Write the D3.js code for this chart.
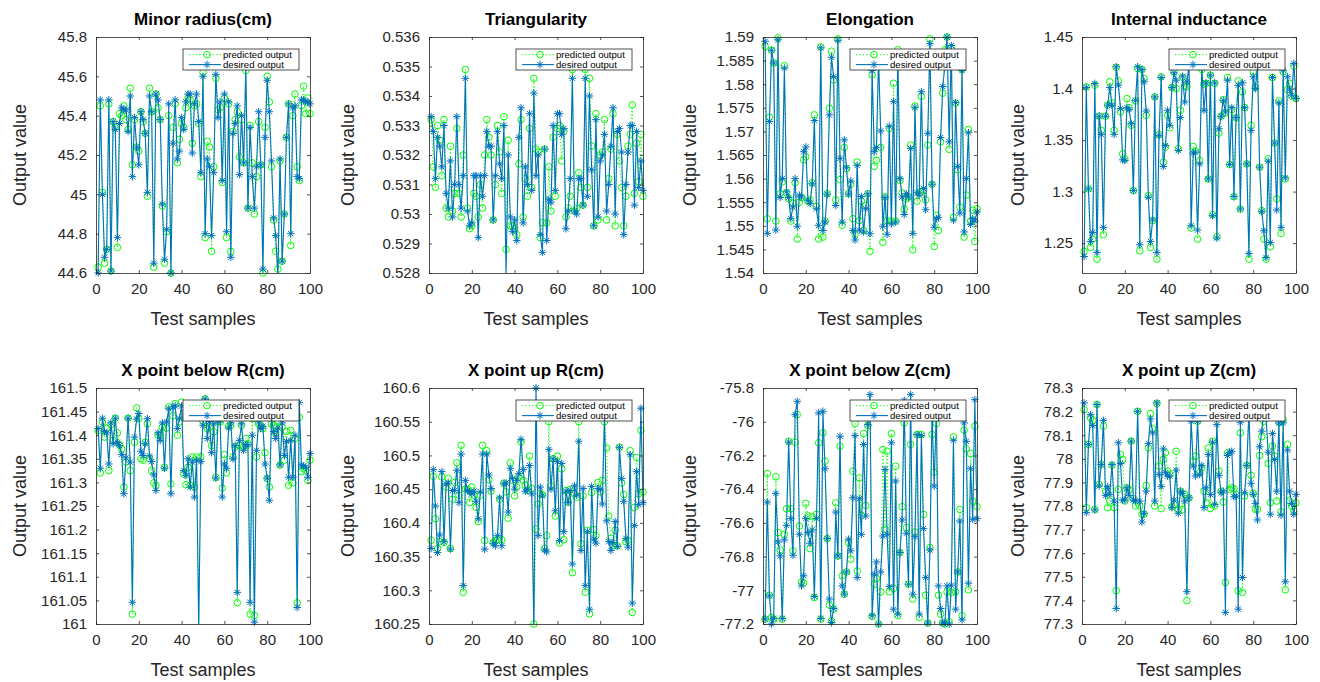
<!DOCTYPE html>
<html><head><meta charset="utf-8">
<script src="https://cdn.jsdelivr.net/npm/d3@7"></script>
<style>
body{margin:0;background:#fff}
text{font-family:"Liberation Sans",Arial,Helvetica,sans-serif}
</style>
</head><body>
<svg id="chart" width="1320" height="682"></svg>
<script>
// ---------- data ----------
const samples = d3.range(1, 101);
const xTicks = [0, 20, 40, 60, 80, 100];

const minorRadiusDesired = [
44.60,45.48,45.00,44.68,44.72,45.48,44.61,45.37,45.33,44.78,
45.36,45.44,45.43,45.43,45.32,45.50,45.09,45.39,45.24,45.15,
45.42,45.38,45.31,45.01,45.50,45.42,44.65,45.51,45.48,45.38,
44.95,44.67,44.82,45.46,44.60,45.26,45.48,45.18,45.22,45.39,
45.33,45.47,45.51,45.51,45.21,45.46,45.51,45.37,45.11,45.60,
44.80,45.18,45.14,44.79,45.11,45.61,45.39,45.47,45.07,45.51,
44.81,45.47,44.68,45.31,45.36,45.45,45.10,45.40,45.16,45.65,
44.93,45.34,45.09,44.93,45.14,45.42,45.15,44.62,45.29,45.58,
45.42,45.17,44.88,44.79,44.58,45.18,44.66,44.90,45.29,45.46,
44.80,45.44,45.45,45.09,45.08,45.48,45.48,45.47,45.47,45.46];
const minorRadiusPredicted = [
44.63,45.45,45.01,44.65,44.72,45.46,44.61,45.37,45.34,44.73,
45.41,45.40,45.45,45.38,45.33,45.54,45.15,45.38,45.24,45.22,
45.42,45.37,45.31,44.99,45.54,45.42,44.63,45.51,45.44,45.38,
44.94,44.65,44.81,45.40,44.60,45.34,45.46,45.16,45.28,45.36,
45.34,45.44,45.49,45.48,45.26,45.45,45.46,45.36,45.09,45.62,
44.78,45.27,45.24,44.71,45.14,45.59,45.43,45.44,45.06,45.49,
44.78,45.46,44.71,45.32,45.38,45.42,45.19,45.38,45.16,45.63,
44.93,45.35,45.16,44.90,45.09,45.37,45.15,44.60,45.34,45.60,
45.47,45.14,44.87,44.71,44.62,45.17,44.66,44.90,45.29,45.46,
44.74,45.40,45.51,45.14,45.07,45.45,45.55,45.41,45.49,45.41];

const triangularityDesired = [
0.5333,0.5328,0.5312,0.5326,0.5323,0.5316,0.5330,0.5307,0.5302,0.5318,
0.5299,0.5310,0.5333,0.5310,0.5302,0.5313,0.5346,0.5301,0.5296,0.5297,
0.5313,0.5313,0.5292,0.5313,0.5306,0.5313,0.5328,0.5323,0.5323,0.5298,
0.5313,0.5328,0.5317,0.5312,0.5330,0.5279,0.5320,0.5299,0.5294,0.5298,
0.5291,0.5326,0.5336,0.5297,0.5316,0.5310,0.5334,0.5308,0.5341,0.5313,
0.5320,0.5293,0.5287,0.5322,0.5291,0.5305,0.5304,0.5330,0.5308,0.5334,
0.5334,0.5327,0.5329,0.5295,0.5301,0.5312,0.5346,0.5301,0.5300,0.5312,
0.5312,0.5303,0.5346,0.5306,0.5340,0.5315,0.5296,0.5332,0.5299,0.5318,
0.5320,0.5327,0.5301,0.5310,0.5323,0.5336,0.5300,0.5328,0.5329,0.5321,
0.5293,0.5310,0.5321,0.5330,0.5330,0.5303,0.5328,0.5309,0.5318,0.5308];
const triangularityPredicted = [
0.5332,0.5316,0.5309,0.5330,0.5325,0.5313,0.5332,0.5302,0.5299,0.5323,
0.5301,0.5307,0.5329,0.5307,0.5299,0.5320,0.5349,0.5302,0.5295,0.5296,
0.5307,0.5306,0.5299,0.5310,0.5302,0.5320,0.5332,0.5326,0.5320,0.5298,
0.5310,0.5330,0.5321,0.5307,0.5333,0.5288,0.5325,0.5296,0.5296,0.5295,
0.5293,0.5317,0.5332,0.5299,0.5312,0.5306,0.5329,0.5309,0.5346,0.5322,
0.5321,0.5292,0.5297,0.5322,0.5297,0.5316,0.5301,0.5326,0.5306,0.5329,
0.5330,0.5318,0.5328,0.5299,0.5302,0.5306,0.5349,0.5301,0.5302,0.5314,
0.5309,0.5303,0.5349,0.5309,0.5346,0.5323,0.5296,0.5334,0.5298,0.5320,
0.5321,0.5332,0.5298,0.5312,0.5322,0.5334,0.5296,0.5327,0.5318,0.5309,
0.5296,0.5306,0.5323,0.5327,0.5337,0.5307,0.5324,0.5311,0.5327,0.5306];

const elongationDesired = [
1.5891,1.5484,1.5721,1.5872,1.5845,1.5491,1.5894,1.5560,1.5600,1.5834,
1.5572,1.5560,1.5515,1.5540,1.5600,1.5499,1.5565,1.5561,1.5657,1.5667,
1.5554,1.5547,1.5589,1.5723,1.5536,1.5501,1.5877,1.5490,1.5508,1.5567,
1.5735,1.5857,1.5816,1.5543,1.5893,1.5643,1.5508,1.5682,1.5623,1.5567,
1.5595,1.5490,1.5470,1.5628,1.5491,1.5562,1.5487,1.5536,1.5568,1.5483,
1.5829,1.5657,1.5666,1.5853,1.5701,1.5499,1.5560,1.5482,1.5711,1.5504,
1.5763,1.5508,1.5859,1.5600,1.5561,1.5524,1.5568,1.5561,1.5664,1.5484,
1.5751,1.5570,1.5565,1.5784,1.5579,1.5534,1.5696,1.5886,1.5588,1.5497,
1.5515,1.5518,1.5687,1.5795,1.5838,1.5900,1.5678,1.5882,1.5512,1.5761,
1.5626,1.5527,1.5829,1.5487,1.5600,1.5697,1.5503,1.5515,1.5510,1.5529];
const elongationPredicted = [
1.5880,1.5515,1.5730,1.5872,1.5845,1.5510,1.5898,1.5568,1.5593,1.5839,
1.5570,1.5557,1.5510,1.5548,1.5591,1.5472,1.5550,1.5560,1.5640,1.5646,
1.5552,1.5555,1.5591,1.5735,1.5541,1.5472,1.5879,1.5476,1.5510,1.5568,
1.5749,1.5870,1.5809,1.5555,1.5896,1.5598,1.5501,1.5666,1.5621,1.5568,
1.5588,1.5515,1.5482,1.5635,1.5511,1.5552,1.5490,1.5543,1.5568,1.5446,
1.5820,1.5626,1.5639,1.5859,1.5666,1.5465,1.5561,1.5511,1.5706,1.5510,
1.5802,1.5510,1.5873,1.5596,1.5570,1.5536,1.5557,1.5561,1.5671,1.5449,
1.5754,1.5552,1.5570,1.5774,1.5575,1.5555,1.5671,1.5896,1.5588,1.5456,
1.5522,1.5490,1.5678,1.5781,1.5873,1.5900,1.5662,1.5877,1.5518,1.5760,
1.5619,1.5540,1.5832,1.5476,1.5565,1.5704,1.5510,1.5533,1.5467,1.5536];

const inductanceDesired = [
1.2370,1.4010,1.3026,1.2516,1.2604,1.4049,1.2409,1.3731,1.3555,1.2653,
1.3731,1.3838,1.4010,1.3838,1.3555,1.4211,1.4032,1.3805,1.3308,1.3302,
1.3815,1.3795,1.3659,1.3010,1.3886,1.4211,1.2484,1.4185,1.4065,1.3782,
1.2945,1.2516,1.2724,1.3919,1.2409,1.3545,1.4107,1.3244,1.3448,1.3789,
1.3643,1.4010,1.4153,1.4081,1.3399,1.3718,1.4120,1.3870,1.4065,1.4211,
1.2669,1.3373,1.3383,1.2627,1.3269,1.4211,1.3789,1.4055,1.3123,1.4130,
1.2766,1.4055,1.2549,1.3610,1.3731,1.3886,1.3773,1.4081,1.3263,1.3815,
1.2951,1.3718,1.4032,1.2831,1.4055,1.3815,1.3269,1.2399,1.3594,1.4114,
1.4000,1.4211,1.3237,1.2808,1.2620,1.2360,1.3295,1.2506,1.4107,1.3471,
1.2821,1.3860,1.2653,1.4179,1.3133,1.4114,1.3994,1.3935,1.4244,1.3903];
const inductancePredicted = [
1.2419,1.4016,1.3026,1.2458,1.2539,1.4032,1.2344,1.3731,1.3594,1.2581,
1.3731,1.3838,1.4065,1.3860,1.3594,1.4205,1.4075,1.3773,1.3367,1.3318,
1.3903,1.3815,1.3643,1.3010,1.3880,1.4195,1.2425,1.4185,1.4097,1.3740,
1.2961,1.2458,1.2718,1.3919,1.2344,1.3555,1.4114,1.3286,1.3432,1.3740,
1.3620,1.4010,1.4162,1.4000,1.3416,1.3789,1.4110,1.4023,1.4016,1.4211,
1.2646,1.3438,1.3393,1.2539,1.3302,1.4185,1.4042,1.4049,1.3123,1.4130,
1.2776,1.4049,1.2562,1.3568,1.3731,1.3893,1.3763,1.4107,1.3263,1.3795,
1.2951,1.3718,1.4075,1.2831,1.3968,1.3815,1.3269,1.2344,1.3643,1.4162,
1.4010,1.4211,1.3237,1.2815,1.2539,1.2344,1.3318,1.2464,1.4107,1.3471,
1.2929,1.3880,1.2594,1.4162,1.3123,1.3990,1.4049,1.3925,1.4218,1.3903];

const xBelowRDesired = [
161.414,161.330,161.436,161.408,161.405,161.339,161.426,161.382,161.436,161.385,
161.378,161.359,161.276,161.352,161.436,161.343,161.046,161.396,161.434,161.446,
161.366,161.357,161.382,161.435,161.356,161.344,161.316,161.283,161.405,161.389,
161.426,161.330,161.428,161.456,161.276,161.460,161.462,161.414,161.436,161.462,
161.325,161.315,161.350,161.290,161.343,161.269,161.347,160.990,161.344,161.421,
161.477,161.393,161.429,161.363,161.424,161.309,161.431,161.431,161.269,161.339,
161.330,161.415,161.426,161.350,161.378,161.067,161.389,161.424,161.368,161.380,
161.380,161.046,161.400,161.004,161.368,161.428,161.414,161.419,161.339,161.309,
161.262,161.435,161.408,161.393,161.415,161.337,161.426,161.357,161.387,161.311,
161.389,161.311,161.400,161.035,161.469,161.337,161.335,161.332,161.311,161.361];
const xBelowRPredicted = [
161.410,161.320,161.428,161.396,161.415,161.325,161.422,161.389,161.436,161.405,
161.380,161.371,161.290,161.343,161.436,161.325,161.021,161.385,161.458,161.435,
161.350,161.347,161.385,161.424,161.351,161.325,161.299,161.294,161.400,161.401,
161.417,161.332,161.415,161.460,161.297,161.441,161.467,161.400,161.428,161.470,
161.318,161.295,161.332,161.294,161.354,161.290,161.354,160.990,161.354,161.429,
161.477,161.414,161.417,161.378,161.407,161.311,161.429,161.428,161.288,161.359,
161.320,161.419,161.421,161.354,161.375,161.045,161.378,161.421,161.375,161.393,
161.382,161.021,161.435,161.018,161.354,161.424,161.419,161.414,161.363,161.308,
161.290,161.424,161.421,161.405,161.428,161.337,161.417,161.347,161.408,161.294,
161.410,161.299,161.393,161.045,161.438,161.323,161.330,161.325,161.304,161.347];

const xUpRDesired = [
160.362,160.479,160.425,160.356,160.382,160.476,160.372,160.458,160.459,160.361,
160.448,160.448,160.478,160.430,160.502,160.307,160.463,160.448,160.446,160.443,
160.447,160.432,160.406,160.446,160.502,160.361,160.502,160.471,160.451,160.369,
160.366,160.381,160.437,160.366,160.458,160.459,160.416,160.481,160.466,160.450,
160.463,160.473,160.524,160.479,160.447,160.450,160.485,160.443,160.240,160.600,
160.381,160.453,160.440,160.360,160.357,160.509,160.450,160.495,160.418,160.491,
160.374,160.488,160.387,160.447,160.430,160.448,160.339,160.455,160.441,160.521,
160.359,160.451,160.307,160.387,160.272,160.454,160.376,160.370,160.451,160.450,
160.428,160.560,160.403,160.372,160.359,160.371,160.402,160.365,160.512,160.466,
160.432,160.377,160.364,160.501,160.281,160.396,160.476,160.427,160.570,160.430];
const xUpRPredicted = [
160.374,160.469,160.406,160.362,160.372,160.468,160.371,160.453,160.466,160.362,
160.435,160.460,160.489,160.441,160.515,160.297,160.450,160.450,160.430,160.453,
160.441,160.423,160.402,160.441,160.515,160.374,160.507,160.464,160.447,160.371,
160.374,160.375,160.435,160.375,160.459,160.446,160.407,160.489,160.463,160.440,
160.453,160.468,160.520,160.463,160.456,160.448,160.499,160.451,160.250,160.391,
160.428,160.443,160.442,160.362,160.381,160.550,160.455,160.495,160.410,160.499,
160.370,160.480,160.375,160.448,160.431,160.450,160.326,160.443,160.438,160.550,
160.369,160.440,160.297,160.389,160.265,160.445,160.390,160.381,160.460,160.446,
160.463,160.550,160.511,160.410,160.377,160.366,160.389,160.366,160.512,160.459,
160.442,160.372,160.374,160.507,160.267,160.423,160.497,160.443,160.537,160.446];

const xBelowZDesired = [
-77.171,-76.477,-77.033,-77.200,-77.167,-76.425,-76.713,-76.796,-77.167,-76.701,
-76.615,-76.121,-76.575,-76.792,-75.958,-75.879,-76.668,-76.974,-76.914,-76.575,
-76.658,-76.721,-76.642,-77.037,-76.575,-75.948,-77.167,-75.938,-76.279,-76.693,
-77.052,-77.191,-77.108,-76.536,-76.796,-76.086,-76.974,-77.023,-76.891,-76.697,
-76.766,-76.451,-76.082,-76.924,-76.457,-76.668,-76.135,-76.559,-76.017,-75.839,
-77.151,-76.905,-76.832,-77.200,-76.891,-76.678,-76.283,-76.668,-76.978,-76.125,
-77.112,-76.352,-77.141,-76.776,-76.583,-75.873,-76.662,-76.964,-75.839,-77.023,
-76.682,-76.076,-77.141,-76.082,-76.634,-76.924,-77.194,-76.761,-75.938,-76.382,
-75.924,-76.974,-77.108,-77.194,-77.194,-76.974,-77.200,-76.970,-76.110,-77.112,
-76.891,-76.589,-77.175,-76.007,-76.116,-76.958,-76.279,-76.579,-75.869,-76.575];
const xBelowZPredicted = [
-77.171,-76.307,-77.029,-77.161,-77.171,-76.327,-76.658,-76.761,-77.171,-76.668,
-76.516,-76.116,-76.516,-76.766,-76.121,-75.958,-76.619,-76.950,-76.956,-76.484,
-76.559,-76.753,-76.564,-77.043,-76.550,-76.125,-77.171,-76.066,-76.234,-76.693,
-77.088,-77.181,-77.112,-76.481,-76.796,-76.145,-76.914,-77.023,-76.891,-76.717,
-76.816,-76.293,-76.011,-76.885,-76.333,-76.555,-76.070,-76.497,-76.023,-75.950,
-77.155,-76.964,-76.930,-77.200,-77.009,-76.165,-76.638,-76.175,-77.009,-76.070,
-76.989,-76.264,-77.151,-76.776,-76.504,-76.007,-76.628,-76.964,-76.135,-77.052,
-76.654,-76.076,-77.161,-76.076,-76.550,-77.029,-77.194,-76.747,-76.076,-76.299,
-76.011,-77.029,-77.141,-77.194,-77.200,-77.009,-77.186,-77.013,-76.090,-77.009,
-76.891,-76.520,-77.151,-76.050,-76.161,-76.997,-76.189,-76.471,-76.027,-76.504];

const xUpZDesired = [
78.237,77.772,78.061,78.187,78.141,77.783,78.230,77.885,77.976,78.163,
77.845,77.882,77.849,77.976,77.821,77.366,78.068,77.980,77.825,77.825,
77.877,77.845,78.075,77.825,77.821,78.201,77.821,77.732,77.769,77.863,
78.065,78.169,78.110,77.821,78.237,77.934,77.882,78.042,77.941,77.927,
77.927,77.793,77.825,77.952,77.769,77.863,77.854,77.821,77.437,77.835,
78.159,77.969,77.927,78.159,77.934,77.972,77.793,77.877,78.018,77.849,
78.070,77.807,78.145,77.930,77.856,77.863,77.349,78.014,78.028,78.032,
77.839,77.842,77.363,78.155,77.497,77.856,77.972,78.201,77.896,77.849,
77.811,77.741,78.051,78.117,78.211,78.173,78.028,77.765,78.107,77.997,
77.863,78.152,77.761,78.152,77.479,78.037,77.863,77.811,77.765,77.849];
const xUpZPredicted = [
78.208,77.793,78.061,78.173,78.163,77.786,78.230,77.892,77.976,78.138,
77.863,77.793,77.821,77.972,77.793,77.441,77.870,78.018,77.997,77.821,
77.877,77.870,78.075,77.831,77.800,78.201,77.800,77.765,77.765,77.887,
78.046,78.192,78.127,77.800,78.234,77.969,77.789,77.997,78.025,77.948,
77.934,77.797,77.807,78.032,77.783,77.863,77.786,77.849,77.399,77.835,
78.180,77.990,78.011,78.159,77.941,77.962,77.863,77.814,78.046,77.789,
78.075,77.800,78.173,77.948,77.863,77.817,77.476,78.025,77.870,77.877,
77.873,77.849,77.441,78.110,77.434,77.842,77.972,78.208,77.930,77.854,
77.786,77.786,78.014,78.093,78.159,78.201,77.980,77.814,78.054,78.011,
77.821,78.155,77.775,78.166,77.445,78.061,77.821,77.800,77.779,77.814];

// tick labels
const minorRadiusTicks   = [44.6, 44.8, 45, 45.2, 45.4, 45.6, 45.8];
const triangularityTicks = [0.528, 0.529, 0.53, 0.531, 0.532, 0.533, 0.534, 0.535, 0.536];
const elongationTicks    = [1.54, 1.545, 1.55, 1.555, 1.56, 1.565, 1.57, 1.575, 1.58, 1.585, 1.59];
const inductanceTicks    = [1.25, 1.3, 1.35, 1.4, 1.45];
const xBelowRTicks = [161, 161.05, 161.1, 161.15, 161.2, 161.25, 161.3, 161.35, 161.4, 161.45, 161.5];
const xUpRTicks    = [160.25, 160.3, 160.35, 160.4, 160.45, 160.5, 160.55, 160.6];
const xBelowZTicks = [-77.2, -77, -76.8, -76.6, -76.4, -76.2, -76, -75.8];
const xUpZTicks    = [77.3, 77.4, 77.5, 77.6, 77.7, 77.8, 77.9, 78, 78.1, 78.2, 78.3];

const titles = ["Minor radius(cm)", "Triangularity", "Elongation", "Internal inductance",
                "X point below R(cm)", "X point up R(cm)", "X point below Z(cm)", "X point up Z(cm)"];
const desiredSeries   = [minorRadiusDesired, triangularityDesired, elongationDesired, inductanceDesired,
                         xBelowRDesired, xUpRDesired, xBelowZDesired, xUpZDesired];
const predictedSeries = [minorRadiusPredicted, triangularityPredicted, elongationPredicted, inductancePredicted,
                         xBelowRPredicted, xUpRPredicted, xBelowZPredicted, xUpZPredicted];
const yTickSets = [minorRadiusTicks, triangularityTicks, elongationTicks, inductanceTicks,
                   xBelowRTicks, xUpRTicks, xBelowZTicks, xUpZTicks];
const yLimits = [[44.6, 45.8], [0.528, 0.536], [1.54, 1.59], [1.221, 1.45],
                 [161, 161.5], [160.25, 160.6], [-77.2, -75.8], [77.3, 78.3]];
const legendLabels = ["predicted output", "desired output"];

// ---------- layout ----------
const colLeft = [96, 429, 763, 1082];
const plotW = 214;
const rowTop = [37, 388];
const plotH = 236;
const yLabelX = [20, 348, 690, 1018];
const GREEN = "#00ff00", BLUE = "#0072BD", AX = "#262626";

const svg = d3.select("#chart");
svg.append("rect").attr("width", 1320).attr("height", 682).attr("fill", "#fff");

const starPath = (r) => {
  const d = r * Math.SQRT1_2;
  return `M${-r},0L${r},0M0,${-r}L0,${r}M${-d},${-d}L${d},${d}M${-d},${d}L${d},${-d}`;
};
const fmt = v => String(+v.toFixed(4));

titles.forEach((title, k) => {
  const col = k % 4, row = Math.floor(k / 4);
  const L = colLeft[col], T = rowTop[row];
  const x = d3.scaleLinear().domain([0, 100]).range([0, plotW]);
  const y = d3.scaleLinear().domain(yLimits[k]).range([plotH, 0]);
  const g = svg.append("g").attr("transform", `translate(${L},${T})`);

  g.append("rect").attr("width", plotW).attr("height", plotH).attr("fill", "#fff");

  const clipId = "clip" + k;
  g.append("clipPath").attr("id", clipId).append("rect")
    .attr("width", plotW).attr("height", plotH);

  const desired = desiredSeries[k], predicted = predictedSeries[k];
  const line = d3.line().x((d, i) => x(samples[i])).y(d => y(d));
  const [lo, hi] = yLimits[k];
  const tol = (hi - lo) * 0.002;
  const inside = d => d >= lo - tol && d <= hi + tol;

  const plotG = g.append("g");
  plotG.append("path").datum(predicted).attr("d", line)
    .attr("fill", "none").attr("stroke", GREEN).attr("stroke-width", 1)
    .attr("stroke-dasharray", "1.2,2.2").attr("clip-path", `url(#${clipId})`);
  plotG.selectAll("circle.pred").data(predicted.map((v, i) => [samples[i], v]).filter(d => inside(d[1])))
    .join("circle").attr("class", "pred")
    .attr("cx", d => x(d[0])).attr("cy", d => y(d[1])).attr("r", 3.3)
    .attr("fill", "none").attr("stroke", GREEN).attr("stroke-width", 1);
  plotG.append("path").datum(desired).attr("d", line)
    .attr("fill", "none").attr("stroke", BLUE).attr("stroke-width", 1.1)
    .attr("clip-path", `url(#${clipId})`);
  plotG.selectAll("path.des").data(desired.map((v, i) => [samples[i], v]).filter(d => inside(d[1])))
    .join("path").attr("class", "des")
    .attr("transform", d => `translate(${x(d[0])},${y(d[1])})`)
    .attr("d", starPath(3.8)).attr("fill", "none").attr("stroke", BLUE).attr("stroke-width", 1);

  // axes
  const styleAxis = sel => {
    sel.select(".domain").attr("stroke", AX).attr("stroke-width", 0.8);
    sel.selectAll(".tick line").attr("stroke", AX).attr("stroke-width", 0.8);
    sel.selectAll(".tick text").attr("fill", AX).style("font-size", "15px")
      .style("font-family", '"Liberation Sans", Arial, sans-serif');
  };
  g.append("g").attr("transform", `translate(0,${plotH})`)
    .call(d3.axisBottom(x).tickValues(xTicks).tickFormat(fmt).tickSize(-3).tickSizeOuter(0).tickPadding(10))
    .call(styleAxis);
  g.append("g")
    .call(d3.axisTop(x).tickValues(xTicks).tickFormat("").tickSize(-3).tickSizeOuter(0))
    .call(styleAxis);
  g.append("g")
    .call(d3.axisLeft(y).tickValues(yTickSets[k]).tickFormat(fmt).tickSize(-3).tickSizeOuter(0).tickPadding(9))
    .call(styleAxis);
  g.append("g").attr("transform", `translate(${plotW},0)`)
    .call(d3.axisRight(y).tickValues(yTickSets[k]).tickFormat("").tickSize(-3).tickSizeOuter(0))
    .call(styleAxis);

  // legend
  const lw = 116, lh = 21;
  const lg = g.append("g").attr("transform", `translate(${plotW - 11 - lw},12)`);
  lg.append("rect").attr("width", lw).attr("height", lh).attr("fill", "#fff")
    .attr("stroke", AX).attr("stroke-width", 0.8);
  legendLabels.forEach((lab, j) => {
    const cy = 5.6 + j * 10;
    const item = lg.append("g").attr("transform", `translate(0,${cy})`);
    if (j === 0) {
      item.append("line").attr("x1", 6).attr("x2", 38).attr("stroke", GREEN)
        .attr("stroke-width", 1).attr("stroke-dasharray", "1.2,2.2");
      item.append("circle").attr("cx", 24).attr("r", 3.3).attr("fill", "none")
        .attr("stroke", GREEN).attr("stroke-width", 1);
    } else {
      item.append("line").attr("x1", 6).attr("x2", 38).attr("stroke", BLUE).attr("stroke-width", 1.1);
      item.append("path").attr("transform", "translate(24,0)").attr("d", starPath(3.8))
        .attr("fill", "none").attr("stroke", BLUE).attr("stroke-width", 1);
    }
    item.append("text").attr("x", 40).attr("y", 3.3).text(lab)
      .attr("fill", "#000").style("font-size", "9.6px");
  });

  // labels
  svg.append("text").attr("x", L + plotW / 2).attr("y", T - 12)
    .attr("text-anchor", "middle").attr("fill", "#000")
    .style("font-size", "17px").style("font-weight", "bold").text(title);
  svg.append("text").attr("x", L + plotW / 2).attr("y", T + plotH + 52)
    .attr("text-anchor", "middle").attr("fill", AX)
    .style("font-size", "18px").text("Test samples");
  svg.append("text")
    .attr("transform", `translate(${yLabelX[col] + 6},${T + plotH / 2}) rotate(-90)`)
    .attr("text-anchor", "middle").attr("fill", AX)
    .style("font-size", "18px").text("Output value");
});
</script>
</body></html>
